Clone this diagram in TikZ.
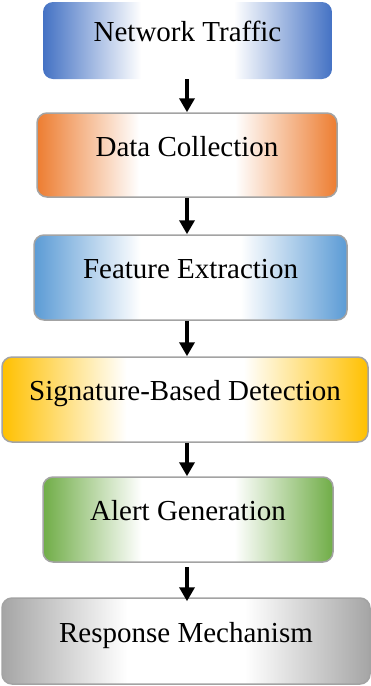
\documentclass[tikz,border=0pt]{standalone}
\usepackage{fontspec}
\setmainfont{Liberation Serif}
\usetikzlibrary{arrows.meta}
\definecolor{cBlueA}{HTML}{4472C4}
\definecolor{cOrange}{HTML}{ED7D31}
\definecolor{cBlueB}{HTML}{5B9BD5}
\definecolor{cGold}{HTML}{FFC000}
\definecolor{cGreen}{HTML}{70AD47}
\definecolor{cGray}{HTML}{A5A5A5}
\definecolor{cBorder}{HTML}{A3A3A3}
\newcommand\mkshade[2]{\pgfdeclarehorizontalshading{#1}{100bp}{color(0bp)=(#2); color(25bp)=(#2); color(42bp)=(white); color(58bp)=(white); color(75bp)=(#2); color(100bp)=(#2)}}
\mkshade{shBlueA}{cBlueA}
\mkshade{shOrange}{cOrange}
\mkshade{shBlueB}{cBlueB}
\mkshade{shGold}{cGold}
\mkshade{shGreen}{cGreen}
\mkshade{shGray}{cGray}
\tikzset{
  boxstyle/.style={rectangle, rounded corners=10pt, font=\fontsize{29}{32}\selectfont,
    text height=15pt, text depth=13pt, inner sep=0pt, align=center},
  bordered/.style={draw=cBorder, line width=1.5pt},
  flowarrow/.style={line width=3.5pt, -{Triangle[width=15pt,length=14pt]}}
}
\begin{document}
\begin{tikzpicture}[x=1pt,y=1pt]
\useasboundingbox (0,0) rectangle (371,-686);
\coordinate (ax) at (187,0);
\node[boxstyle, shading=shBlueA, minimum width=289pt, minimum height=77pt] (n1) at (187.5,-40.5) {Network Traffic};
\node[boxstyle, bordered, shading=shOrange, minimum width=300pt, minimum height=84pt] (n2) at (187,-155) {Data Collection};
\node[boxstyle, bordered, shading=shBlueB, minimum width=313pt, minimum height=85pt] (n3) at (190.5,-277.5) {Feature Extraction};
\node[boxstyle, bordered, shading=shGold, minimum width=366pt, minimum height=85pt] (n4) at (185,-399.5) {Signature-Based Detection};
\node[boxstyle, bordered, shading=shGreen, minimum width=290pt, minimum height=85pt] (n5) at (188,-519.5) {Alert Generation};
\node[boxstyle, bordered, shading=shGray, minimum width=368pt, minimum height=86pt] (n6) at (186,-641) {Response Mechanism};
\draw[flowarrow] (n1.south -| ax) -- (n2.north -| ax);
\draw[flowarrow] (n2.south -| ax) -- (n3.north -| ax);
\draw[flowarrow] (n3.south -| ax) -- (n4.north -| ax);
\draw[flowarrow] (n4.south -| ax) -- (n5.north -| ax);
\draw[flowarrow, shorten <=4pt, shorten >=-4pt] (n5.south -| ax) -- (n6.north -| ax);
\end{tikzpicture}
\end{document}
